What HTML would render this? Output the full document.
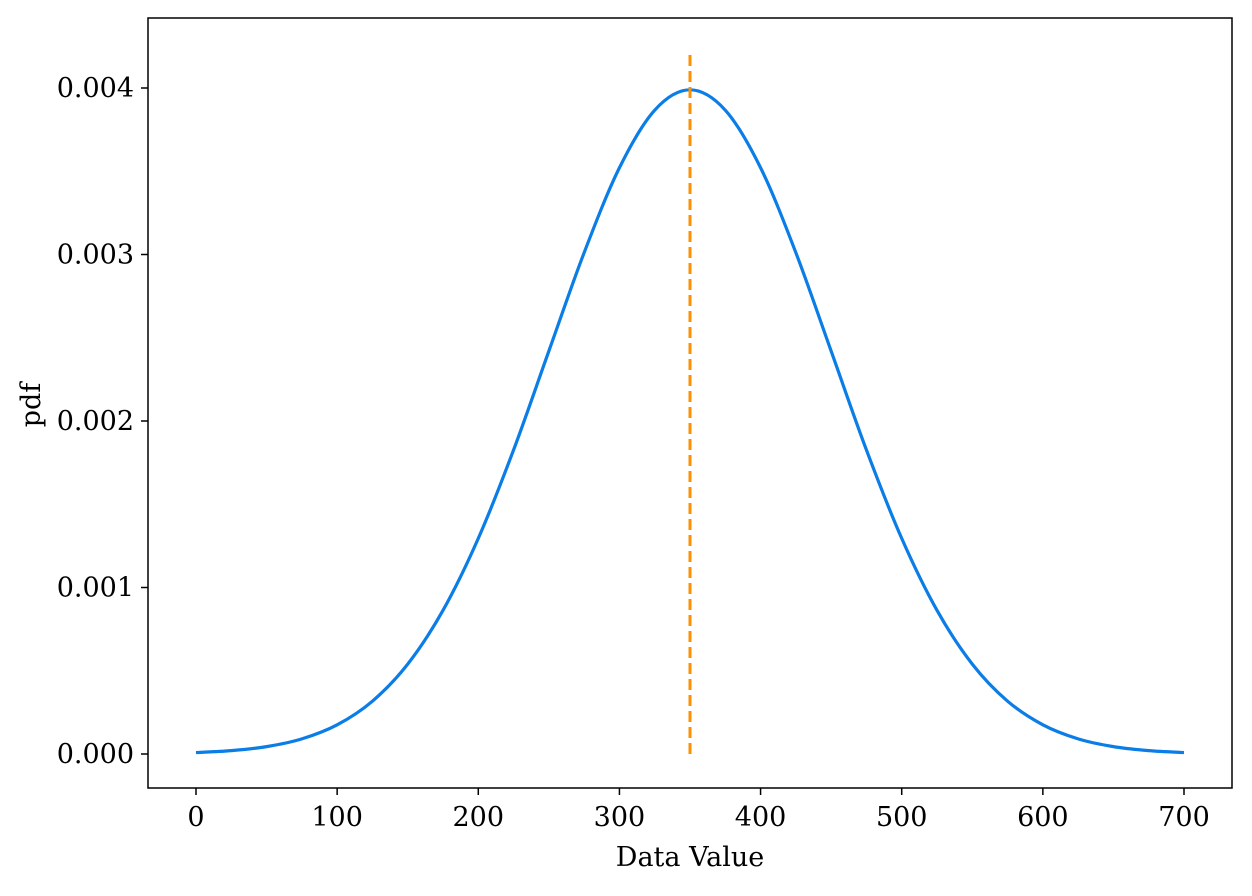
<!DOCTYPE html>
<html><head><meta charset="utf-8"><style>
html,body{margin:0;padding:0;background:#fff;}
svg{display:block;}
text{font-family:"DejaVu Serif","Liberation Serif",serif;font-size:27px;fill:#000;}
</style></head><body>
<svg id="chart" width="1252" height="896">
<rect x="148" y="18" width="1084" height="770" fill="none" stroke="#000" stroke-width="1.5"/>
<g id="ticks"></g>
<path id="curve" fill="none" stroke="#0a7de6" stroke-width="3.2"/>
<line id="meanline" stroke="#ff9100" stroke-width="3" stroke-dasharray="11,5"/>
<text x="690" y="866" text-anchor="middle" font-size="27">Data Value</text>
<text transform="translate(40,405) rotate(-90)" text-anchor="middle" font-size="27">pdf</text>
</svg>
<script>
const xValues=[0,25,50,75,100,125,150,175,200,225,250,275,300,325,350,375,400,425,450,475,500,525,550,575,600,625,650,675,700];
const pdfValues=[0.0000087,0.0000203,0.0000443,0.0000909,0.0001753,0.0003174,0.0005399,0.0008628,0.001295,0.001826,0.002420,0.003011,0.003521,0.003867,0.003989,0.003867,0.003521,0.003011,0.002420,0.001826,0.001295,0.0008628,0.0005399,0.0003174,0.0001753,0.0000909,0.0000443,0.0000203,0.0000087];
const xTicks=[0,100,200,300,400,500,600,700];
const yTicks=[0,0.001,0.002,0.003,0.004];
const yTickLabels=["0.000","0.001","0.002","0.003","0.004"];
const meanValue=350;
const meanTop=0.00422;
const sx=v=>196+v*(1184-196)/700;
const sy=v=>754-v*(754-88)/0.004;
const NS="http://www.w3.org/2000/svg";
const g=document.getElementById('ticks');
xTicks.forEach(t=>{
 const l=document.createElementNS(NS,'line');
 l.setAttribute('x1',sx(t));l.setAttribute('x2',sx(t));l.setAttribute('y1',788);l.setAttribute('y2',795);l.setAttribute('stroke','#000');l.setAttribute('stroke-width','1.5');
 
 
 g.appendChild(l);
 const tx=document.createElementNS(NS,'text');
 tx.setAttribute('x',sx(t));tx.setAttribute('y',826);tx.setAttribute('text-anchor','middle');tx.setAttribute('font-size','27');tx.textContent=t;
 
 
 g.appendChild(tx);
});
yTicks.forEach((t,i)=>{
 const l=document.createElementNS(NS,'line');
 l.setAttribute('x1',141);l.setAttribute('x2',148);l.setAttribute('y1',sy(t));l.setAttribute('y2',sy(t));l.setAttribute('stroke','#000');l.setAttribute('stroke-width','1.5');
 
 
 g.appendChild(l);
 const tx=document.createElementNS(NS,'text');
 tx.setAttribute('x',134);tx.setAttribute('y',sy(t)+9);tx.setAttribute('text-anchor','end');tx.setAttribute('font-size','27');tx.textContent=yTickLabels[i];
 
 
 g.appendChild(tx);
});
const pts=xValues.map((x,i)=>[sx(x),sy(pdfValues[i])]);
let d='M'+pts[0][0]+','+pts[0][1];
for(let i=0;i<pts.length-1;i++){
 const p0=pts[Math.max(0,i-1)],p1=pts[i],p2=pts[i+1],p3=pts[Math.min(pts.length-1,i+2)];
 const c1=[p1[0]+(p2[0]-p0[0])/6,p1[1]+(p2[1]-p0[1])/6];
 const c2=[p2[0]-(p3[0]-p1[0])/6,p2[1]-(p3[1]-p1[1])/6];
 d+=` C${c1[0]},${c1[1]} ${c2[0]},${c2[1]} ${p2[0]},${p2[1]}`;
}
document.getElementById('curve').setAttribute('d',d);
const m=document.getElementById('meanline');
m.setAttribute('x1',sx(meanValue));m.setAttribute('x2',sx(meanValue));
m.setAttribute('y1',sy(0));m.setAttribute('y2',sy(meanTop));
</script>
</body></html>
